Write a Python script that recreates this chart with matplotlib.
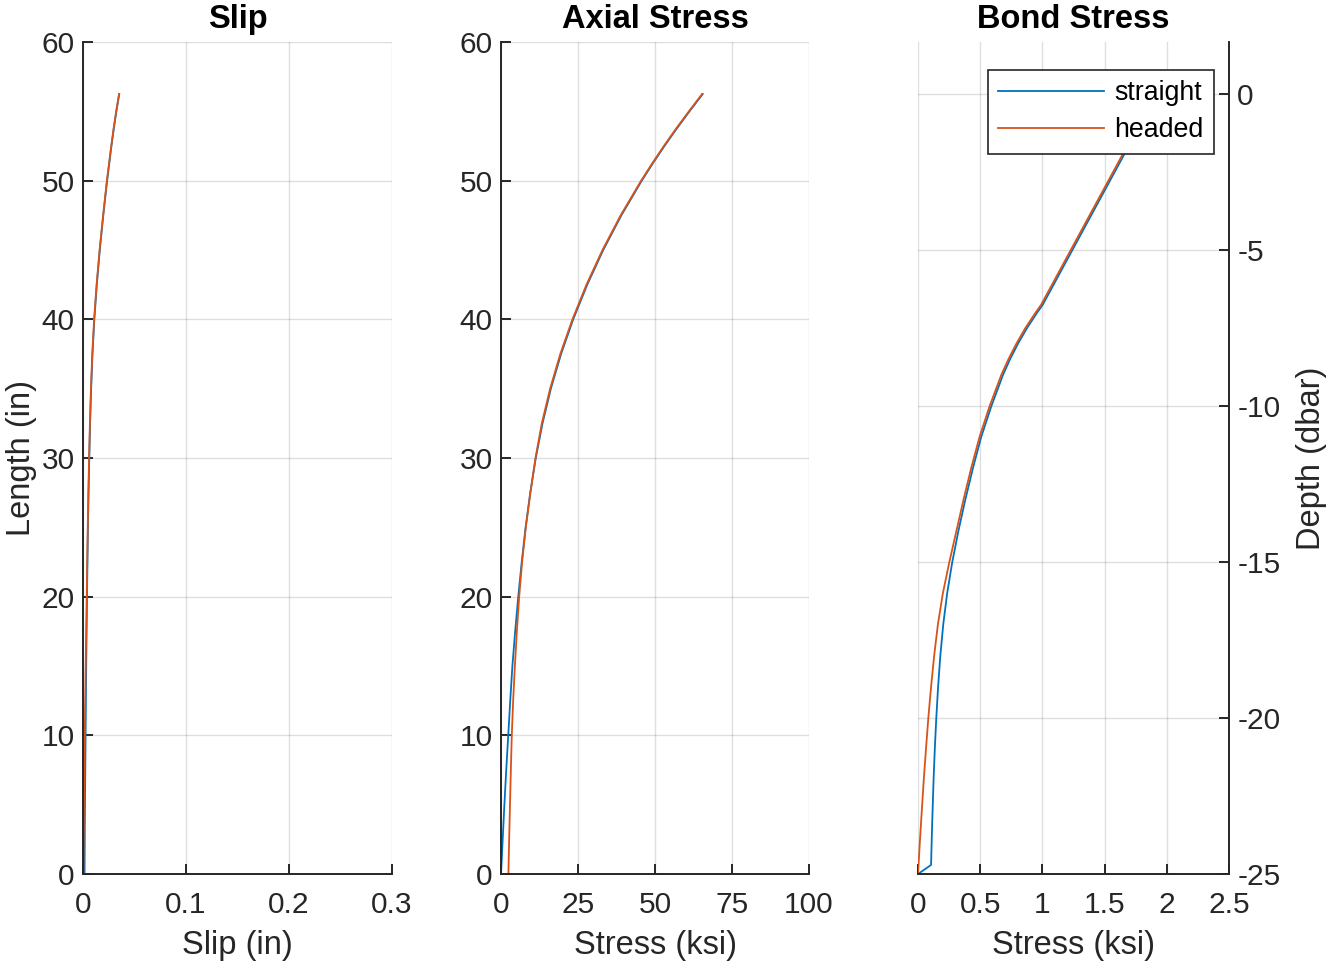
import matplotlib
matplotlib.use("Agg")
import matplotlib.pyplot as plt

plt.rcParams['font.family'] = ['Liberation Sans', 'DejaVu Sans']
plt.rcParams['axes.unicode_minus'] = False

# ---------------- data ----------------
length_in = [0, 2.5, 5, 7.5, 10, 12.5, 15, 17.5, 20, 22.5, 25, 27.5, 30,
             32.5, 35, 37.5, 40, 42.5, 45, 47.5, 50, 51.25, 52.5, 53.75, 55, 56.25]

slip_straight = [0.0015, 0.0017, 0.0019, 0.0022, 0.0025, 0.0028, 0.0031, 0.0035,
                 0.0039, 0.0043, 0.0048, 0.0054, 0.0061, 0.0069, 0.0079, 0.0092,
                 0.0110, 0.0134, 0.0163, 0.0197, 0.0234, 0.0255, 0.0276, 0.0299,
                 0.0324, 0.0352]
slip_headed = [0.0003, 0.0006, 0.0009, 0.0013, 0.0017, 0.0021, 0.0026, 0.0031,
               0.0036, 0.0041, 0.0046, 0.0052, 0.0059, 0.0067, 0.0077, 0.0090,
               0.0108, 0.0132, 0.0161, 0.0195, 0.0232, 0.0253, 0.0274, 0.0297,
               0.0322, 0.0350]

axial_straight = [0, 0.55, 1.1, 1.7, 2.35, 3.0, 3.7, 4.6, 5.6, 6.73, 8.0, 9.5,
                  11.29, 13.48, 16.19, 19.5, 23.44, 28.0, 33.19, 39.07, 45.7,
                  49.3, 53.07, 57.04, 61.2, 65.5]
axial_headed = [2.4, 2.65, 2.92, 3.2, 3.5, 3.95, 4.5, 5.15, 5.9, 6.85, 8.05, 9.55,
                11.2, 13.25, 15.95, 19.25, 23.2, 27.75, 32.95, 38.85, 45.5,
                49.1, 52.87, 56.84, 61.0, 65.3]

depth_straight = [-25, -24.71, -23.5, -22, -21, -20, -19, -18, -17, -16, -15, -14,
                  -13, -12, -11, -10, -9, -8.5, -8, -7.5, -7, -6.76, -5, -4, -3,
                  -2, -1, 0]
bond_straight = [0, 0.105, 0.113, 0.125, 0.135, 0.147, 0.1615, 0.1795, 0.203,
                 0.2345, 0.2755, 0.325, 0.3805, 0.441, 0.5075, 0.59, 0.6835, 0.74,
                 0.804, 0.8765, 0.959, 1.002, 1.241, 1.377, 1.513, 1.649, 1.785,
                 1.921]
depth_headed = [-25, -24, -23, -22, -21, -20, -19, -18, -17, -16, -15, -14, -13,
                -12, -11, -10, -9, -8.5, -8, -7.5, -7, -6.76, -5, -4, -3, -2, -1, 0]
bond_headed = [0, 0.0145, 0.030, 0.046, 0.064, 0.083, 0.105, 0.130, 0.160, 0.2,
               0.252, 0.309, 0.366, 0.427, 0.494, 0.576, 0.670, 0.727, 0.791, 0.863,
               0.946, 0.989, 1.228, 1.364, 1.5, 1.636, 1.772, 1.908]

series_labels = ['straight', 'headed']
slip_ticks = [0, 0.1, 0.2, 0.3]
slip_ticklabels = ['0', '0.1', '0.2', '0.3']
axial_ticks = [0, 25, 50, 75, 100]
bond_ticks = [0, 0.5, 1, 1.5, 2, 2.5]
bond_ticklabels = ['0', '0.5', '1', '1.5', '2', '2.5']
length_ticks = [0, 10, 20, 30, 40, 50, 60]
depth_ticks = [-25, -20, -15, -10, -5, 0]

# ---------------- style ----------------
BLUE = '#0072BD'
ORANGE = '#D95319'
AXC = '#262626'
TICK_FS = 21.5
LABEL_FS = 23.5
TITLE_FS = 23.5
LEG_FS = 19.3
LW = 1.3

W, H = 1326, 961
fig = plt.figure(figsize=(W / 100, H / 100), dpi=100)


def px_axes(l, r, t, b):
    return fig.add_axes([l / W, (H - b) / H, (r - l) / W, (b - t) / H])


def style(ax, right=False):
    for s in ax.spines.values():
        s.set_color(AXC)
        s.set_linewidth(1.4)
    ax.spines['top'].set_visible(False)
    if right:
        ax.spines['left'].set_visible(False)
    else:
        ax.spines['right'].set_visible(False)
    ax.tick_params(direction='in', length=7.5, width=1.4, color=AXC,
                   labelcolor=AXC, labelsize=TICK_FS)
    ax.tick_params(axis='x', pad=12)
    ax.tick_params(axis='y', pad=6)
    ax.grid(True, color='#262626', alpha=0.15, linewidth=1.0)
    ax.set_axisbelow(True)


ax1 = px_axes(83, 392, 42, 874)
ax2 = px_axes(501, 809, 42, 874)
ax3 = px_axes(918, 1229, 42, 874)

# Slip
ax1.plot(slip_straight, length_in, color=BLUE, lw=LW)
ax1.plot(slip_headed, length_in, color=ORANGE, lw=LW)
ax1.set_xlim(0, 0.3)
ax1.set_ylim(0, 60)
ax1.set_xticks(slip_ticks)
ax1.set_xticklabels(slip_ticklabels)
ax1.set_yticks(length_ticks)
style(ax1)
ax1.set_title('Slip', fontsize=TITLE_FS, fontweight='bold', pad=10)
ax1.set_xlabel('Slip (in)', fontsize=LABEL_FS, color=AXC, labelpad=8)
ax1.set_ylabel('Length (in)', fontsize=LABEL_FS, color=AXC, labelpad=3.5)

# Axial stress
ax2.plot(axial_straight, length_in, color=BLUE, lw=LW)
ax2.plot(axial_headed, length_in, color=ORANGE, lw=LW)
ax2.set_xlim(0, 100)
ax2.set_ylim(0, 60)
ax2.set_xticks(axial_ticks)
ax2.set_yticks(length_ticks)
style(ax2)
ax2.set_title('Axial Stress', fontsize=TITLE_FS, fontweight='bold', pad=10)
ax2.set_xlabel('Stress (ksi)', fontsize=LABEL_FS, color=AXC, labelpad=8)

# Bond stress (depth on right axis)
ax3.plot(bond_straight, depth_straight, color=BLUE, lw=LW, label=series_labels[0])
ax3.plot(bond_headed, depth_headed, color=ORANGE, lw=LW, label=series_labels[1])
ax3.set_xlim(0, 2.5)
ax3.set_ylim(-25, 25 * 60 / 56.25 - 25)
ax3.set_xticks(bond_ticks)
ax3.set_xticklabels(bond_ticklabels)
ax3.set_yticks(depth_ticks)
ax3.yaxis.tick_right()
ax3.yaxis.set_label_position('right')
style(ax3, right=True)
ax3.tick_params(axis='y', left=False, right=True)
ax3.set_title('Bond Stress', fontsize=TITLE_FS, fontweight='bold', pad=10)
ax3.set_xlabel('Stress (ksi)', fontsize=LABEL_FS, color=AXC, labelpad=8)
ax3.set_ylabel('Depth (dbar)', fontsize=LABEL_FS, color=AXC, labelpad=11)

leg = ax3.legend(loc='upper right', bbox_to_anchor=(0.9518, 0.9663),
                 borderaxespad=0, fontsize=LEG_FS, frameon=True, fancybox=False,
                 handlelength=3.95, handletextpad=0.4, labelspacing=0.42,
                 borderpad=0.38)
leg.get_frame().set_edgecolor(AXC)
leg.get_frame().set_linewidth(1.2)
leg.get_frame().set_alpha(1)
for t in leg.get_texts():
    t.set_color('black')

fig.savefig('out.png', dpi=100)
